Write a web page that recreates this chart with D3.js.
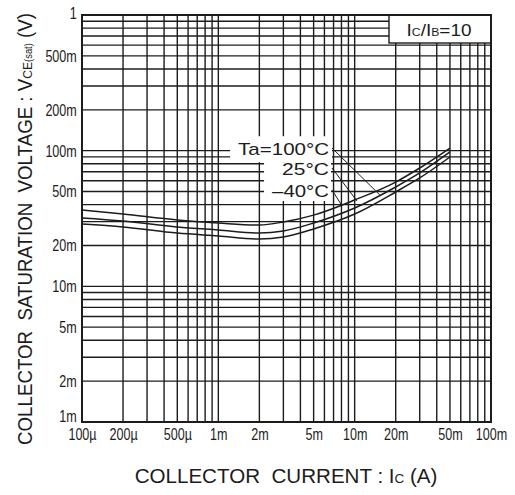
<!DOCTYPE html>
<html>
<head>
<meta charset="utf-8">
<script src="https://cdn.jsdelivr.net/npm/d3@7"></script>
<style>
  body { margin: 0; background: #fff; }
  svg text { font-family: Arial, "Liberation Sans", Helvetica, sans-serif; fill: #1c1c1c; white-space: pre; }
</style>
</head>
<body>
<svg id="graph" width="515" height="495"></svg>
<script>
  var svg = d3.select("#graph");

  var currents = [100e-6, 200e-6, 500e-6, 1e-3, 2e-3, 3e-3, 5e-3, 10e-3, 20e-3, 30e-3, 50e-3];
  // VCE(sat) in volts, one array per curve (top, middle, bottom at high current)
  var vce100 = [0.0365, 0.0341, 0.0308, 0.0293, 0.0283, 0.0298, 0.0335, 0.0433, 0.0587, 0.0745, 0.1046];
  var vce25  = [0.0319, 0.0303, 0.0274, 0.0260, 0.0247, 0.0256, 0.0293, 0.0378, 0.0540, 0.0685, 0.0978];
  var vceM40 = [0.0288, 0.0274, 0.0247, 0.0235, 0.0223, 0.0231, 0.0265, 0.0341, 0.0496, 0.0629, 0.0898];

  var tempLabels = ["Ta=100°C", "25°C", "–40°C"];
  // where each leader line touches the curves (current A, voltage V)
  var leaderCurrents = [15.3e-3, 10.4e-3, 8.1e-3];
  var leaderVolts = [0.0471, 0.0426, 0.0391];

  var xTickValues = [1e-4, 2e-4, 5e-4, 1e-3, 2e-3, 5e-3, 1e-2, 2e-2, 5e-2, 1e-1];
  var xTickLabels = ["100µ", "200µ", "500µ", "1m", "2m", "5m", "10m", "20m", "50m", "100m"];
  var yTickValues = [1e-3, 2e-3, 5e-3, 1e-2, 2e-2, 5e-2, 0.1, 0.2, 0.5, 1];
  var yTickLabels = ["1m", "2m", "5m", "10m", "20m", "50m", "100m", "200m", "500m", "1"];

  var plotL = 82, plotR = 491, plotT = 15, plotB = 422;
  var ink = "#1c1c1c";

  var x = d3.scaleLog().domain([1e-4, 1e-1]).range([plotL, plotR]);
  var y = d3.scaleLog().domain([1e-3, 1]).range([plotB, plotT]);

  // squeeze / stretch a text so it is exactly `width` wide
  function fit(t, px, py, width, rot) {
    var w = t.node().getBBox().width;
    t.attr("transform", "translate(" + px + "," + py + ")" + (rot ? " rotate(" + rot + ")" : "") +
      " scale(" + (width / w) + ",1)");
  }

  // grid
  var grid = svg.append("g").attr("stroke", ink).attr("stroke-width", 1.4);
  grid.selectAll(".vline").data(x.ticks()).enter().append("line")
    .attr("x1", function(d) { return x(d); })
    .attr("x2", function(d) { return x(d); })
    .attr("y1", plotT).attr("y2", plotB);
  grid.selectAll(".hline").data(y.ticks()).enter().append("line")
    .attr("y1", function(d) { return y(d); })
    .attr("y2", function(d) { return y(d); })
    .attr("x1", plotL).attr("x2", plotR);

  // curves
  var line = d3.line()
    .x(function(d) { return x(d[0]); })
    .y(function(d) { return y(d[1]); })
    .curve(d3.curveMonotoneX);

  [vce100, vce25, vceM40].forEach(function(series) {
    svg.append("path")
      .datum(currents.map(function(c, i) { return [c, series[i]]; }))
      .attr("d", line)
      .attr("fill", "none")
      .attr("stroke", ink)
      .attr("stroke-width", 1.5);
  });

  // temperature labels with white backing and leaders
  var labelG = svg.append("g");
  var bgG = labelG.append("g");
  var baselines = [155, 175, 197];
  var widths = [91, 47, 57];
  var texts = tempLabels.map(function(s, i) {
    var t = labelG.append("text").text(s)
      .attr("text-anchor", "end")
      .style("font-size", "16px");
    fit(t, 329, baselines[i], widths[i]);
    return t;
  });
  var svgBox = svg.node().getBoundingClientRect();
  var boxes = texts.map(function(t) {
    var b = t.node().getBoundingClientRect();
    return { x0: b.left - svgBox.left, x1: b.right - svgBox.left, y0: b.top - svgBox.top, y1: b.bottom - svgBox.top };
  });
  bgG.append("rect")
    .attr("x", boxes[0].x0 - 8).attr("y", boxes[0].y0 - 4)
    .attr("width", boxes[0].x1 - boxes[0].x0 + 11).attr("height", 26)
    .attr("fill", "#fff");
  bgG.append("rect")
    .attr("x", Math.min(boxes[1].x0, boxes[2].x0) - 8).attr("y", boxes[0].y0 + 22)
    .attr("width", 331 - Math.min(boxes[1].x0, boxes[2].x0) + 8)
    .attr("height", 201 - (boxes[0].y0 + 22))
    .attr("fill", "#fff");

  labelG.selectAll(".leader").data(tempLabels).enter().append("line")
    .attr("x1", 332)
    .attr("y1", function(d, i) { return baselines[i] - 7; })
    .attr("x2", function(d, i) { return x(leaderCurrents[i]); })
    .attr("y2", function(d, i) { return y(leaderVolts[i]); })
    .attr("stroke", ink)
    .attr("stroke-width", 1);

  // Ic/IB box in the top right corner
  svg.append("rect")
    .attr("x", plotR - 102).attr("y", plotT)
    .attr("width", 102).attr("height", 28)
    .attr("fill", "#fff").attr("stroke", ink).attr("stroke-width", 1.4);
  var cond = svg.append("text").attr("text-anchor", "middle").style("font-size", "17px");
  cond.append("tspan").text("I");
  cond.append("tspan").text("C").style("font-size", "11px");
  cond.append("tspan").text("/I");
  cond.append("tspan").text("B").style("font-size", "11px");
  cond.append("tspan").text("=10");
  fit(cond, 439, 36, 65);

  // plot frame
  svg.append("rect")
    .attr("x", plotL).attr("y", plotT)
    .attr("width", plotR - plotL).attr("height", plotB - plotT)
    .attr("fill", "none").attr("stroke", ink).attr("stroke-width", 2);

  // axes (labels only, grid does the ticks)
  var xAxis = svg.append("g")
    .attr("transform", "translate(0," + plotB + ")")
    .call(d3.axisBottom(x).tickValues(xTickValues)
      .tickFormat(function(d, i) { return xTickLabels[i]; })
      .tickSize(0).tickPadding(6));
  var yAxis = svg.append("g")
    .attr("transform", "translate(" + plotL + ",0)")
    .call(d3.axisLeft(y).tickValues(yTickValues)
      .tickFormat(function(d, i) { return yTickLabels[i]; })
      .tickSize(0).tickPadding(7));
  [xAxis, yAxis].forEach(function(a) {
    a.select(".domain").remove();
    a.attr("font-family", null).attr("font-size", null);
    a.selectAll("text")
      .style("font-size", "17px")
      .attr("fill", ink)
      .attr("transform", "scale(0.74,1)");
  });
  // the bottom and top voltage labels sit inside the frame corners
  yAxis.selectAll(".tick text")
    .filter(function(d) { return d === 1e-3; })
    .attr("y", -6);
  yAxis.selectAll(".tick text")
    .filter(function(d) { return d === 1; })
    .attr("y", -2);

  // axis titles
  var xTitle = svg.append("text").attr("text-anchor", "middle").style("font-size", "20px");
  xTitle.append("tspan").text("COLLECTOR  CURRENT : I");
  xTitle.append("tspan").text("C").style("font-size", "13px");
  xTitle.append("tspan").text(" (A)");
  fit(xTitle, 286, 483, 303);

  var yTitle = svg.append("text").attr("text-anchor", "middle").style("font-size", "20px");
  yTitle.append("tspan").text("COLLECTOR  SATURATION  VOLTAGE : V");
  yTitle.append("tspan").text("CE").style("font-size", "13px");
  yTitle.append("tspan").text("(sat)").style("font-size", "10px");
  yTitle.append("tspan").text(" (V)");
  fit(yTitle, 32, 229, 432, -90);
</script>
</body>
</html>
